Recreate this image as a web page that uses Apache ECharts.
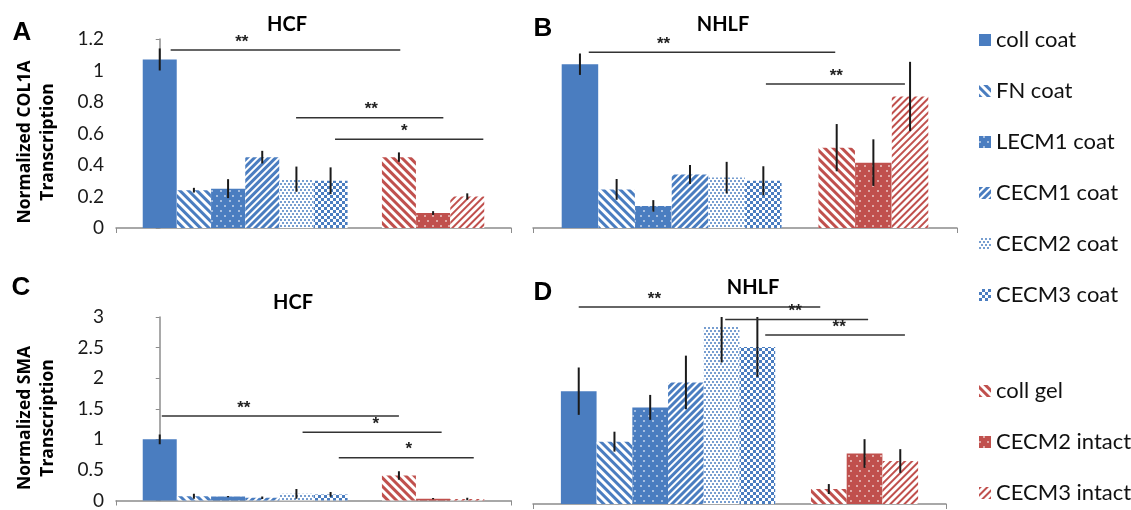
<!DOCTYPE html>
<html><head><meta charset="utf-8">
<script src="https://cdn.jsdelivr.net/npm/echarts@6/dist/echarts.min.js"></script>
<style>html,body{margin:0;padding:0;background:#fff}#c{width:1131px;height:510px}</style>
</head><body><div id="c"></div>
<script>
// ---------- DATA ----------
const categories = ['coll coat','FN coat','LECM1 coat','CECM1 coat','CECM2 coat','CECM3 coat','','coll gel','CECM2 intact','CECM3 intact'];

const col1aHCF     = [1.07, 0.24, 0.25, 0.45, 0.31, 0.30, null, 0.45, 0.095, 0.20];
const col1aHCFErr  = [0.07, 0.015, 0.06, 0.04, 0.08, 0.085, null, 0.03, 0.012, 0.02];
const col1aNHLF    = [1.04, 0.245, 0.14, 0.34, 0.32, 0.30, null, 0.51, 0.415, 0.835];
const col1aNHLFErr = [0.068, 0.066, 0.037, 0.06, 0.10, 0.092, null, 0.15, 0.148, 0.22];
const smaHCF       = [1.0, 0.07, 0.065, 0.045, 0.11, 0.10, null, 0.41, 0.03, 0.025];
const smaHCFErr    = [0.08, 0.04, 0.01, 0.02, 0.08, 0.04, null, 0.07, 0.01, 0.02];
const smaNHLF      = [1.81, 1.0, 1.55, 1.95, 2.84, 2.52, null, 0.24, 0.81, 0.69];
const smaNHLFErr   = [0.38, 0.16, 0.2, 0.43, 0.57, 0.48, null, 0.08, 0.23, 0.19];

// significance brackets: [from, to, level, labelAt] in category units, and their labels
const sigA = [[0.32, 7.04, 1.13, 2.4], [3.99, 8.3, 0.70, 6.19], [5.13, 9.47, 0.564, 7.16]];
const sigALabels = ['**', '**', '*'];
const sigB = [[0.24, 6.96, 1.116, 2.28], [5.07, 8.86, 0.915, 6.99]];
const sigBLabels = ['**', '**'];
const sigC = [[0.06, 7.0, 1.38, 2.46], [4.18, 8.25, 1.115, 6.32], [5.24, 9.19, 0.70, 7.29]];
const sigCLabels = ['**', '*', '*'];
const sigD = [[0, 6.76, 3.16, 2.12], [4.1, 8.1, 2.96, 6.06], [5.22, 9.13, 2.71, 7.29]];
const sigDLabels = ['**', '**', '**'];

const col1aTicks = [0, 1.2, 0.2];
const smaTicks = [0, 3, 0.5];

// ---------- STYLE ----------
const BLUE = '#4A7DC0', RED = '#C0504D';
const FONT = 'Lato, "Open Sans", sans-serif';
const dots = (c) => ({ symbol: 'rect', symbolSize: 1, color: c,
  dashArrayX: [[1.5, 6], [0, 3.75, 1.5, 2.25]], dashArrayY: [1.5, 2.25] });
const stripes = (c, th, gap, rot) => ({ symbol: 'rect', symbolSize: 1, color: c,
  dashArrayX: [1, 0], dashArrayY: [th, gap], rotation: rot });
const barStyle = {
  'coll coat':    { color: BLUE },
  'FN coat':      { color: '#fff', decal: stripes(BLUE, 2.5, 2.5, Math.PI / 4) },
  'LECM1 coat':   { color: BLUE, decal: dots('rgba(255,255,255,0.5)') },
  'CECM1 coat':   { color: '#fff', decal: stripes(BLUE, 3, 2, -Math.PI / 4) },
  'CECM2 coat':   { color: '#fff', decal: { symbol: 'rect', symbolSize: 1, color: 'rgba(74,125,192,0.75)',
                     dashArrayX: [[1.5, 1.5], [0, 1.5, 1.5, 0]], dashArrayY: [1.5, 0.5] } },
  'CECM3 coat':   { color: '#fff', decal: { symbol: 'rect', symbolSize: 1, color: BLUE,
                     dashArrayX: [[3, 3], [0, 3, 3, 0]], dashArrayY: [3, 0] } },
  'coll gel':     { color: '#fff', decal: stripes(RED, 2.5, 3, Math.PI / 4) },
  'CECM2 intact': { color: RED, decal: dots('rgba(255,255,255,0.5)') },
  'CECM3 intact': { color: '#fff', decal: stripes(RED, 2, 3, -Math.PI / 4) }
};

const panels = [
  { grid: { left: 116, top: 39, width: 395, height: 189 }, vals: col1aHCF, errs: col1aHCFErr, sig: sigA, sigL: sigALabels, ticks: col1aTicks, showY: true, bw: 34 },
  { grid: { left: 533, top: 39, width: 424, height: 189 }, vals: col1aNHLF, errs: col1aNHLFErr, sig: sigB, sigL: sigBLabels, ticks: col1aTicks, showY: false, bw: 36.5 },
  { grid: { left: 116, top: 317, width: 395, height: 187 }, vals: smaHCF, errs: smaHCFErr, sig: sigC, sigL: sigCLabels, ticks: smaTicks, showY: true, bw: 34 },
  { grid: { left: 533, top: 317, width: 413, height: 187 }, vals: smaNHLF, errs: smaNHLFErr, sig: sigD, sigL: sigDLabels, ticks: smaTicks, showY: false, bw: 35.7 }
];

const XMIN = -1.28, XMAX = 10.28;
const grids = [], xAxes = [], yAxes = [], series = [];
panels.forEach((p, gi) => {
  grids.push(p.grid);
  xAxes.push({ type: 'value', gridIndex: gi, min: XMIN, max: XMAX,
    axisLine: { show: true, onZero: false, lineStyle: { color: '#8c8c8c', width: 1.5 } },
    axisTick: { show: true, customValues: [XMIN, XMAX], length: 5, lineStyle: { color: '#8c8c8c' } },
    axisLabel: { show: false }, splitLine: { show: false } });
  yAxes.push({ type: 'value', gridIndex: gi, min: p.ticks[0], max: p.ticks[1], interval: p.ticks[2],
    axisLine: { show: p.showY, lineStyle: { color: '#8c8c8c', width: 1.5 } },
    axisTick: { show: p.showY, length: 4, lineStyle: { color: '#8c8c8c' } },
    axisLabel: { show: p.showY, fontSize: 19, color: '#1a1a1a', margin: 12, fontFamily: FONT },
    splitLine: { show: false } });
  categories.forEach((cat, i) => {
    if (p.vals[i] == null) return;
    series.push({ type: 'bar', name: cat, xAxisIndex: gi, yAxisIndex: gi,
      data: [[i, p.vals[i]]], barWidth: p.bw, barGap: '-100%',
      itemStyle: barStyle[cat], z: 2 });
  });
  series.push({ type: 'custom', xAxisIndex: gi, yAxisIndex: gi, clip: true, z: 5,
    data: p.vals.map((v, i) => v == null ? null : [i, v, p.errs[i]]).filter(d => d),
    renderItem: (params, api) => {
      const x = api.value(0), v = api.value(1), e = api.value(2);
      const a = api.coord([x, v - e]), b = api.coord([x, v + e]);
      return { type: 'line', shape: { x1: a[0], y1: a[1], x2: b[0], y2: b[1] },
        style: { stroke: '#1a1a1a', lineWidth: 2 } };
    } });
  series.push({ type: 'custom', xAxisIndex: gi, yAxisIndex: gi, clip: false, z: 6,
    data: p.sig.map((s, k) => [s[0], s[1], s[2], s[3], k]),
    renderItem: (params, api) => {
      const a = api.coord([api.value(0), api.value(2)]), b = api.coord([api.value(1), api.value(2)]);
      const t = api.coord([api.value(3), api.value(2)]);
      return { type: 'group', children: [
        { type: 'line', shape: { x1: a[0], y1: a[1], x2: b[0], y2: b[1] }, style: { stroke: '#333', lineWidth: 1.5 } },
        { type: 'text', x: t[0], y: t[1] - 8, style: { text: p.sigL[api.value(4)], fill: '#222',
          font: 'bold 17px "Liberation Sans", sans-serif', textAlign: 'center', textVerticalAlign: 'middle' } }
      ] };
    } });
});

const txt = (s, x, y, font, rot) => ({ type: 'text', x, y, rotation: rot || 0,
  style: { text: s, font, fill: '#000', textAlign: 'center', textVerticalAlign: 'middle', lineHeight: 23 } });
const titleFont = 'bold 20px Lato, sans-serif';
const letterFont = 'bold 26px "Liberation Sans", Arial, sans-serif';
const nameFont = 'bold 17.5px "Open Sans", sans-serif';
const legendText = { fontSize: 22, lineHeight: 22, color: '#111', fontFamily: FONT };

const chart = echarts.init(document.getElementById('c'), null, { renderer: 'canvas' });
chart.setOption({
  animation: false,
  textStyle: { fontFamily: FONT },
  grid: grids, xAxis: xAxes, yAxis: yAxes, series,
  legend: [
    { orient: 'vertical', left: 979, top: 29, height: 300, padding: 0, itemWidth: 12, itemHeight: 12, itemGap: 29,
      icon: 'rect', selectedMode: false, data: categories.slice(0, 6), textStyle: legendText },
    { orient: 'vertical', left: 979, top: 380, height: 128, padding: 0, itemWidth: 12, itemHeight: 12, itemGap: 29,
      icon: 'rect', selectedMode: false, data: categories.slice(7), textStyle: legendText }
  ],
  graphic: [
    txt('HCF', 287, 25, titleFont), txt('NHLF', 723, 25, titleFont),
    txt('HCF', 293, 303, titleFont), txt('NHLF', 753, 288, titleFont),
    txt('A', 22, 33, letterFont), txt('B', 543, 29, letterFont),
    txt('C', 21, 288, letterFont), txt('D', 543, 293, letterFont),
    txt('Normalized COL1A\nTranscription', 37, 142, nameFont, Math.PI / 2),
    txt('Normalized SMA\nTranscription', 37, 418, nameFont, Math.PI / 2)
  ]
});
</script></body></html>
